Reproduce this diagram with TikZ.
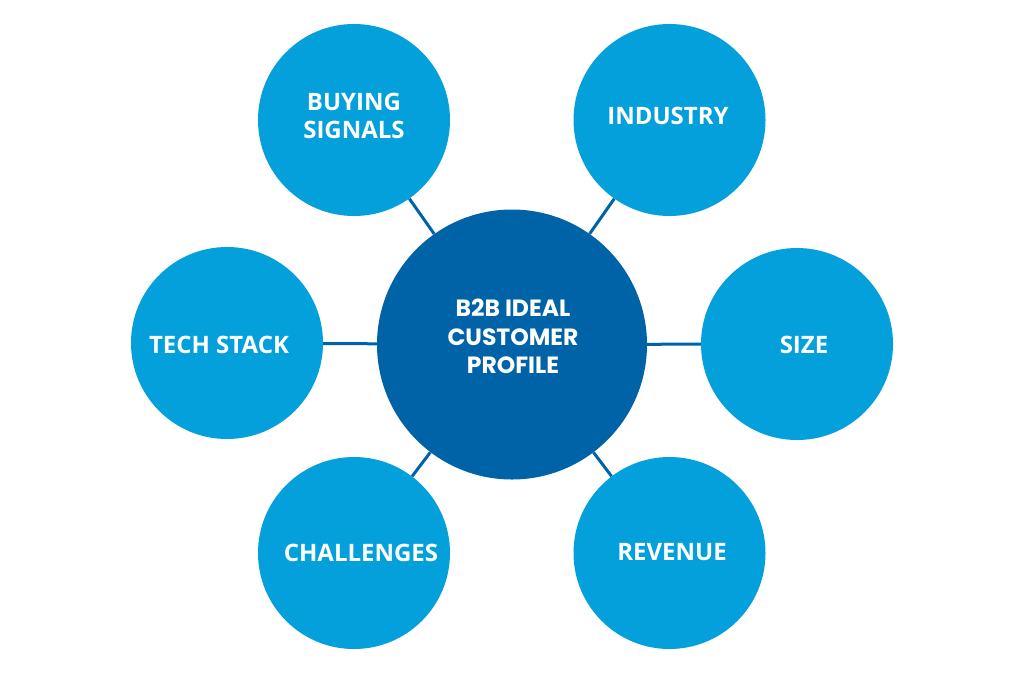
\documentclass[tikz,border=0pt]{standalone}
\usepackage{fontspec}
\newfontfamily\outerfont{Open Sans}
\newfontfamily\ctrfont{Poppins}
\definecolor{outerblue}{RGB}{3,160,219}
\definecolor{darkblue}{RGB}{1,99,167}
\begin{document}
\begin{tikzpicture}[x=1pt,y=-1pt,
  outer/.style={circle,fill=outerblue,inner sep=0pt,minimum size=192pt},
  centre/.style={circle,fill=darkblue,inner sep=0pt,minimum size=270pt},
  lbl/.style={text=white,font=\outerfont\bfseries\fontsize{24}{28}\selectfont,align=center,inner sep=0pt},
  clbl/.style={text=white,font=\ctrfont\bfseries\fontsize{23.5}{28.5}\selectfont,align=center,inner sep=0pt},
  link/.style={draw=darkblue,line width=3pt}]
\fill[white] (0,0) rectangle (1024,673);
\useasboundingbox (0,0) rectangle (1024,673);
\node[centre] (c) at (512,344.5) {};
\node[outer] (buy) at (354,120) {};
\node[outer] (ind) at (669.5,120) {};
\node[outer] (tech) at (227,343) {};
\node[outer] (size) at (797,344) {};
\node[outer] (chal) at (354,553) {};
\node[outer] (rev) at (669.5,553) {};
\foreach \n in {buy,ind,tech,size,chal,rev}{\draw[link] (\n) -- (c);}
\node[clbl] (tc) at (513,336.5) {B2B IDEAL\\CUSTOMER\\PROFILE};
\node[lbl] (tbuy) at (354,115.5) {BUYING\\SIGNALS};
\node[lbl] (tind) at (668,115.5) {INDUSTRY};
\node[lbl] (ttech) at (219,344.5) {TECH STACK};
\node[lbl] (tsize) at (804,344.5) {SIZE};
\node[lbl] (tchal) at (361,552.5) {CHALLENGES};
\node[lbl] (trev) at (672,552.5) {REVENUE};
\end{tikzpicture}
\end{document}
